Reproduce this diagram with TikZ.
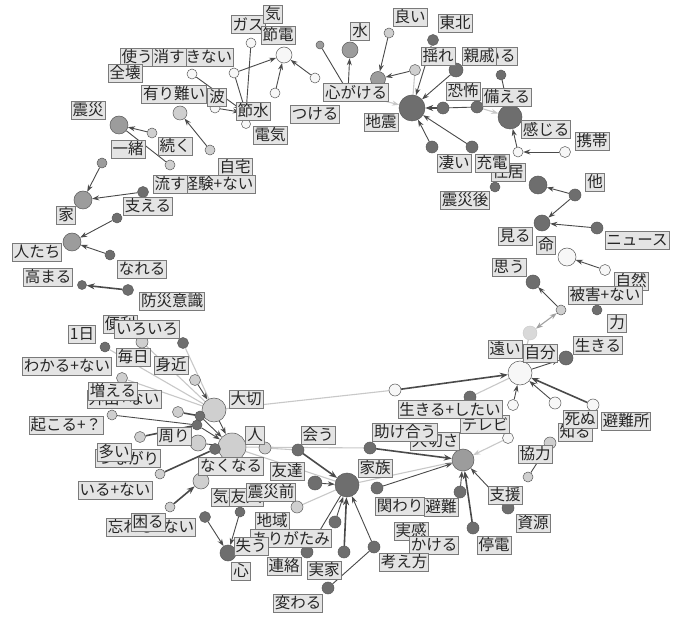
\documentclass[tikz,border=0pt]{standalone}
\usepackage{fontspec}
\newfontfamily\jp{Noto Sans CJK JP}
\usetikzlibrary{arrows.meta}
\pgfdeclarelayer{bg}
\pgfsetlayers{bg,main}
\definecolor{ndk}{HTML}{6E6E6E}
\definecolor{nmd}{HTML}{9C9C9C}
\definecolor{nlt}{HTML}{CFCFCF}
\definecolor{nwt}{HTML}{F7F7F7}
\definecolor{nbd}{HTML}{5A5A5A}
\definecolor{lfill}{HTML}{E4E4E4}
\definecolor{lbd}{HTML}{7A7A7A}
\definecolor{edk}{HTML}{4A4A4A}
\definecolor{efn}{HTML}{C8C8C8}
\tikzset{
  cn/.style={circle,draw=nbd,line width=0.5pt,inner sep=0pt,minimum size=#1},
  dk/.style={cn=#1,fill=ndk}, dk/.default=12pt,
  md/.style={cn=#1,fill=nmd}, md/.default=12pt,
  lt/.style={cn=#1,fill=nlt}, lt/.default=12pt,
  wt/.style={cn=#1,fill=nwt}, wt/.default=12pt,
  fa/.style={circle,draw=efn,fill=efn!70,inner sep=0pt,minimum size=#1},
  lab/.style={draw=lbd,line width=0.6pt,fill=lfill,inner xsep=1.5pt,inner ysep=0pt,
    minimum height=18pt,font=\jp\fontsize{15.5}{16}\selectfont,text=black!85},
  ar/.style={draw=edk,line width=0.9pt,-{Stealth[length=7pt,width=5pt]}},
  arb/.style={draw=edk,line width=1.6pt,-{Stealth[length=8pt,width=6pt]}},
  ln/.style={draw=edk,line width=0.9pt},
  lnb/.style={draw=edk,line width=1.6pt},
  fl/.style={draw=efn,line width=1.1pt},
  fla/.style={draw=efn,line width=1.1pt,-{Stealth[length=7pt,width=5pt]}},
}
\begin{document}
\begin{tikzpicture}[x=1pt,y=-1pt]
\useasboundingbox (0,0) rectangle (683,617);
\begin{pgfonlayer}{bg}
\fill[white] (0,0) rectangle (683,617);
\end{pgfonlayer}
% ---------- circles ----------
\node[wt=12pt] (cSetsu) at (246,113) {};
\node[wt=10pt] (cGas) at (251,43) {};
\node[wt=10pt] (cW1) at (234,73) {};
\node[wt=10pt] (cKesu) at (192,74) {};
\node[wt=16pt] (cSetsuden) at (284,55) {};
\node[wt=10pt] (cW2) at (275,93) {};
\node[wt=10pt] (cW3) at (315,78) {};
\node[wt=10pt] (cNami) at (215,108) {};
\node[lt=14pt] (cArig) at (180,113) {};
\node[lt=10pt] (cJitaku) at (210,150) {};
\node[wt=9pt] (cDenki) at (246,124) {};
\node[md=8pt] (cKi) at (320,45) {};
\node[dk=8pt] (cKh) at (348,92) {};
\node[md=16pt] (cMizu) at (350,50) {};
\node[md=15pt] (cKokoro) at (378,79) {};
\node[lt=10pt] (cYoi) at (389,33) {};
\node[lt=11pt] (cW4) at (415,70) {};
\node[dk=26pt] (cJishin) at (412,108) {};
\node[dk=11pt] (cTohoku) at (433,40) {};
\node[dk=14pt] (cYure) at (456,70) {};
\node[dk=10pt] (cShin) at (501,75) {};
\node[dk=12pt] (cKyo1) at (443,108) {};
\node[dk=12pt] (cKyo2) at (477,107) {};
\node[dk=24pt] (cSonae) at (510,117) {};
\node[dk=12pt] (cSugoi) at (432,147) {};
\node[dk=12pt] (cJuden) at (472,147) {};
\node[wt=10pt] (cW5) at (518,152) {};
\node[wt=11pt] (cKeitai) at (565,152) {};
\node[dk=18pt] (cJukyo) at (538,185) {};
\node[dk=10pt] (cShinsaigo) at (495,187) {};
\node[dk=12pt] (cHoka) at (575,195) {};
\node[dk=16pt] (cMiru) at (542,223) {};
\node[dk=12pt] (cNews) at (597,228) {};
\node[wt=18pt] (cInochi) at (567,257) {};
\node[wt=11pt] (cShizen) at (605,270) {};
\node[dk=14pt] (cOmou) at (533,282) {};
\node[lt=10pt] (cHigai) at (561,310) {};
\node[dk=10pt] (cChikara) at (597,310) {};
\node[fa=14pt] (cFaint) at (530,333) {};
\node[dk=14pt] (cIkiru) at (566,358) {};
\node[wt=24pt] (cJibun) at (520,373) {};
\node[wt=12pt] (cIkitai) at (395,390) {};
\node[dk=12pt] (cTv) at (470,397) {};
\node[wt=11pt] (cW6) at (513,405) {};
\node[wt=12pt] (cShinu) at (555,403) {};
\node[wt=12pt] (cHinanjo) at (593,405) {};
\node[wt=11pt] (cW7) at (508,438) {};
\node[lt=12pt] (cKyoryoku) at (550,443) {};
\node[lt=10pt] (cW8) at (528,477) {};
\node[md=22pt] (cTaisetsusa) at (463,460) {};
\node[dk=12pt] (cTasuke) at (370,448) {};
\node[dk=12pt] (cKakawari) at (377,488) {};
\node[dk=12pt] (cHinan) at (460,492) {};
\node[dk=12pt] (cShigen) at (508,508) {};
\node[dk=12pt] (cTeiden) at (473,528) {};
\node[dk=24pt] (cKazoku) at (347,485) {};
\node[dk=12pt] (cAu) at (298,450) {};
\node[dk=14pt] (cTomo) at (315,483) {};
\node[dk=12pt] (cB1) at (335,522) {};
\node[dk=12pt] (cKangae) at (374,547) {};
\node[dk=12pt] (cJikka) at (344,552) {};
\node[dk=12pt] (cB2) at (307,552) {};
\node[dk=12pt] (cKawaru) at (328,588) {};
\node[dk=16pt] (cKokoro2) at (228,553) {};
\node[dk=11pt] (cB3) at (205,517) {};
\node[dk=10pt] (cB4) at (240,512) {};
\node[lt=12pt] (cB5) at (297,507) {};
\node[lt=12pt] (cB6) at (265,448) {};
\node[lt=24pt] (cTaisetsu) at (214,410) {};
\node[lt=28pt] (cHito) at (232,447) {};
\node[dk=10pt] (cD1) at (200,416) {};
\node[dk=10pt] (cD2) at (197,425) {};
\node[lt=16pt] (cMawari) at (198,443) {};
\node[dk=11pt] (cD3) at (215,449) {};
\node[lt=16pt] (cNaku) at (201,481) {};
\node[lt=10pt] (cIru) at (160,474) {};
\node[lt=10pt] (cKomaru) at (170,507) {};
\node[dk=10pt] (cIchinichi) at (105,347) {};
\node[lt=12pt] (cIroiro) at (142,342) {};
\node[dk=11pt] (cD4) at (183,343) {};
\node[lt=11pt] (cMainichi) at (122,378) {};
\node[lt=11pt] (cMijika) at (195,380) {};
\node[lt=10pt] (cOkoru) at (112,415) {};
\node[lt=11pt] (cE1) at (178,412) {};
\node[lt=11pt] (cOi) at (140,437) {};
\node[md=18pt] (cShinsai) at (119,125) {};
\node[lt=10pt] (cTsuzuku) at (152,133) {};
\node[md=10pt] (cIssho) at (102,163) {};
\node[lt=10pt] (cNagasu) at (170,165) {};
\node[dk=11pt] (cSasaeru) at (143,192) {};
\node[md=18pt] (cIe) at (83,200) {};
\node[dk=10pt] (cF1) at (117,218) {};
\node[md=18pt] (cHitotachi) at (72,242) {};
\node[dk=10pt] (cNareru) at (110,255) {};
\node[dk=9pt] (cTakamaru) at (82,285) {};
\node[dk=11pt] (cBosai) at (128,290) {};
% ---------- edges ----------
\begin{pgfonlayer}{bg}
% faint
\draw[fl] (cTaisetsu) -- (cIkitai);
\draw[fl] (cIchinichi) -- (cTaisetsu);
\draw[fl] (cIroiro) -- (cTaisetsu);
\draw[fl] (cD4) -- (cTaisetsu);
\draw[fl] (cMainichi) -- (cTaisetsu);
\draw[fl] (cHito) -- (cTasuke);
\draw[fl] (cB6) -- (cAu);
\draw[fl] (cHito) -- (cKazoku);
\draw[fl] (cB5) -- (cKazoku);
\draw[fl] (cFaint) -- (cJibun);
\draw[fl] (cTv) -- (cJibun);
\draw[fl] (cKazoku) -- (cTaisetsusa);
\draw[fla] (cKh) -- (cJishin);
\draw[fl] (cW4) -- (cJishin);
\draw[fla] (cKyo2) -- (cSonae);
\draw[fla] (cW7) -- (cTaisetsusa);
\draw[draw=efn!80!black,line width=1.1pt,{Stealth[length=7pt,width=5pt]}-{Stealth[length=7pt,width=5pt]}] (cHigai) -- (cFaint);
% dark
\draw[ar] (cKesu) -- (cSetsu);
\draw[ln] (cGas) -- (cSetsu);
\draw[ln] (cW1) -- (cSetsu);
\draw[ar] (cW1) -- (cSetsuden);
\draw[ar] (cW2) -- (cSetsuden);
\draw[ar] (cW3) -- (cSetsuden);
\draw[ar] (cNami) -- (cSetsu);
\draw[ar] (cJitaku) -- (cArig);
\draw[ln] (cKi) -- (cKh);
\draw[ar] (cKh) -- (cMizu);
\draw[ar] (cYoi) -- (cKokoro);
\draw[ar] (cW4) -- (cKokoro);
\draw[ar] (cTohoku) -- (cJishin);
\draw[ar] (cYure) -- (cJishin);
\draw[arb] (cKyo1) -- (cJishin);
\draw[ln] (cKyo2) -- (cKyo1);
\draw[ln] (cShin) -- (cSonae);
\draw[ar] (cSugoi) -- (cJishin);
\draw[ar] (cJuden) -- (cJishin);
\draw[ar] (cW5) -- (cSonae);
\draw[ar] (cKeitai) -- (cW5);
\draw[ar] (cHoka) -- (cJukyo);
\draw[ar] (cHoka) -- (cMiru);
\draw[ar] (cNews) -- (cMiru);
\draw[ar] (cShizen) -- (cInochi);
\draw[ar] (cHigai) -- (cOmou);
\draw[ar] (cJibun) -- (cIkiru);
\draw[arb] (cIkitai) -- (cJibun);
\draw[ar] (cW6) -- (cJibun);
\draw[ar] (cShinu) -- (cJibun);
\draw[arb] (cHinanjo) -- (cJibun);
\draw[ln] (cKyoryoku) -- (cW8);
\draw[arb] (cTasuke) -- (cTaisetsusa);
\draw[ar] (cKakawari) -- (cTaisetsusa);
\draw[ar] (cHinan) -- (cTaisetsusa);
\draw[ar] (cShigen) -- (cTaisetsusa);
\draw[arb] (cTeiden) -- (cTaisetsusa);
\draw[arb] (cAu) -- (cKazoku);
\draw[ar] (cTomo) -- (cKazoku);
\draw[ar] (cB1) -- (cKazoku);
\draw[ar] (cKangae) -- (cKazoku);
\draw[arb] (cJikka) -- (cKazoku);
\draw[ln] (cB2) -- (cKazoku);
\draw[ln] (cKawaru) -- (cKangae);
\draw[ar] (cB3) -- (cKokoro2);
\draw[ar] (cB4) -- (cKokoro2);
\draw[ar] (cTaisetsu) -- (cHito);
\draw[ar] (cD1) -- (cHito);
\draw[ar] (cD2) -- (cHito);
\draw[ar] (cMijika) -- (cTaisetsu);
\draw[lnb] (cE1) -- (cD1);
\draw[ln] (cOkoru) -- (cD2);
\draw[lnb] (cOi) -- (cD2);
\draw[lnb] (cIru) -- (cD3);
\draw[arb] (cKomaru) -- (cNaku);
\draw[ln] (cNaku) -- (cHito);
\draw[ln] (cMawari) -- (cHito);
\draw[ar] (cTsuzuku) -- (cShinsai);
\draw[ln] (cShinsai) -- (cNagasu);
\draw[ar] (cIssho) -- (cIe);
\draw[ar] (cSasaeru) -- (cIe);
\draw[ar] (cF1) -- (cHitotachi);
\draw[ar] (cNareru) -- (cHitotachi);
\draw[arb] (cBosai) -- (cTakamaru);
\end{pgfonlayer}
% ---------- labels ----------
\node[lab] (tGas) at (248,24) {ガス};
\node[lab] (tKi) at (273,14) {気};
\node[lab] (tSetsuden) at (278,35) {節電};
\node[lab] (tDekinai) at (201,57) {できない};
\node[lab] (tTsukau) at (137,57) {使う};
\node[lab] (tKesu) at (169,57) {消す};
\node[lab] (tZenkai) at (125,73) {全壊};
\node[lab] (tArig) at (174,94) {有り難い};
\node[lab] (tNami) at (217,97) {波};
\node[lab] (tSetsu) at (253,111) {節水};
\node[lab] (tDenki) at (270,135) {電気};
\node[lab] (tShinsai) at (88,110) {震災};
\node[lab] (tTsuzuku) at (175,146) {続く};
\node[lab] (tIssho) at (128,149) {一緒};
\node[lab] (tJitaku) at (235,167) {自宅};
\node[lab] (tKeiken) at (218,184) {経験+ない};
\node[lab] (tNagasu) at (170,184) {流す};
\node[lab] (tSasaeru) at (148,206) {支える};
\node[lab] (tIe) at (66,215) {家};
\node[lab] (tHitotachi) at (37,252) {人たち};
\node[lab] (tNareru) at (142,269) {なれる};
\node[lab] (tTakamaru) at (48,277) {高まる};
\node[lab] (tBosai) at (172,301) {防災意識};
\node[lab] (tMizu) at (360,31) {水};
\node[lab] (tYoi) at (410,17) {良い};
\node[lab] (tTohoku) at (455,23) {東北};
\node[lab] (tYure) at (438,56) {揺れ};
\node[lab] (tIru2) at (500,56) {いる};
\node[lab] (tShinseki) at (479,56) {親戚};
\node[lab] (tKokoro) at (356,92) {心がける};
\node[lab] (tTsukeru) at (315,114) {つける};
\node[lab] (tJishin) at (381,122) {地震};
\node[lab] (tKyofu) at (463,91) {恐怖};
\node[lab] (tSonae) at (507,97) {備える};
\node[lab] (tKanjiru) at (546,129) {感じる};
\node[lab] (tKeitai) at (592,141) {携帯};
\node[lab] (tJukyo) at (508,172) {住居};
\node[lab] (tSugoi) at (454,163) {凄い};
\node[lab] (tJuden) at (492,163) {充電};
\node[lab] (tShinsaigo) at (465,200) {震災後};
\node[lab] (tHoka) at (595,182) {他};
\node[lab] (tMiru) at (515,236) {見る};
\node[lab] (tInochi) at (546,245) {命};
\node[lab] (tNews) at (637,240) {ニュース};
\node[lab] (tOmou) at (509,267) {思う};
\node[lab] (tShizen) at (631,281) {自然};
\node[lab] (tHigai) at (605,295) {被害+ない};
\node[lab] (tChikara) at (617,323) {力};
\node[lab] (tToi) at (505,349) {遠い};
\node[lab] (tJibun) at (540,353) {自分};
\node[lab] (tIkiru) at (598,345) {生きる};
\node[lab] (tTv) at (485,424) {テレビ};
\node[lab] (tIkitai) at (450,409) {生きる+したい};
\node[lab] (tShiru) at (575,432) {知る};
\node[lab] (tShinu) at (580,419) {死ぬ};
\node[lab] (tHinanjo) at (626,421) {避難所};
\node[lab] (tKyoryoku) at (535,454) {協力};
\node[lab] (tTaisetsusa) at (435,441) {大切さ};
\node[lab] (tTasuke) at (405,432) {助け合う};
\node[lab] (tKazoku) at (375,468) {家族};
\node[lab] (tShien) at (505,495) {支援};
\node[lab] (tShigen) at (533,523) {資源};
\node[lab] (tKakawari) at (400,506) {関わり};
\node[lab] (tHinan) at (441,507) {避難};
\node[lab] (tJikkan) at (411,531) {実感};
\node[lab] (tKakeru) at (434,545) {かける};
\node[lab] (tTeiden) at (494,545) {停電};
\node[lab] (tKangae) at (404,562) {考え方};
\node[lab] (tIchinichi) at (82,334) {1日};
\node[lab] (tBenri) at (120,324) {便利};
\node[lab] (tIroiro) at (147,329) {いろいろ};
\node[lab] (tWakaru) at (67,366) {わかる+ない};
\node[lab] (tMainichi) at (133,357) {毎日};
\node[lab] (tMijika) at (171,365) {身近};
\node[lab] (tGaishutsu) at (124,399) {外出+ない};
\node[lab] (tFueru) at (113,391) {増える};
\node[lab] (tOkoru) at (66,425) {起こる+？};
\node[lab] (tMawari) at (174,436) {周り};
\node[lab] (tTsunagari) at (128,458) {つながり};
\node[lab] (tOi) at (114,452) {多い};
\node[lab] (tIru) at (115,490) {いる+ない};
\node[lab] (tWasureru) at (151,527) {忘れる+ない};
\node[lab] (tKomaru) at (148,522) {困る};
\node[lab] (tTaisetsu) at (246,399) {大切};
\node[lab] (tHito) at (255,435) {人};
\node[lab] (tNaku) at (231,466) {なくなる};
\node[lab] (tKimochi) at (236,497) {気持ち};
\node[lab] (tYujin) at (246,497) {友人};
\node[lab] (tShinsaimae) at (271,492) {震災前};
\node[lab] (tAu) at (318,435) {会う};
\node[lab] (tTomo) at (287,471) {友達};
\node[lab] (tChiiki) at (272,521) {地域};
\node[lab] (tArigatami) at (291,538) {ありがたみ};
\node[lab] (tUshinau) at (251,546) {失う};
\node[lab] (tKokoro2) at (241,571) {心};
\node[lab] (tRenraku) at (284,566) {連絡};
\node[lab] (tJikka) at (324,570) {実家};
\node[lab] (tKawaru) at (298,603) {変わる};
\end{tikzpicture}
\end{document}
